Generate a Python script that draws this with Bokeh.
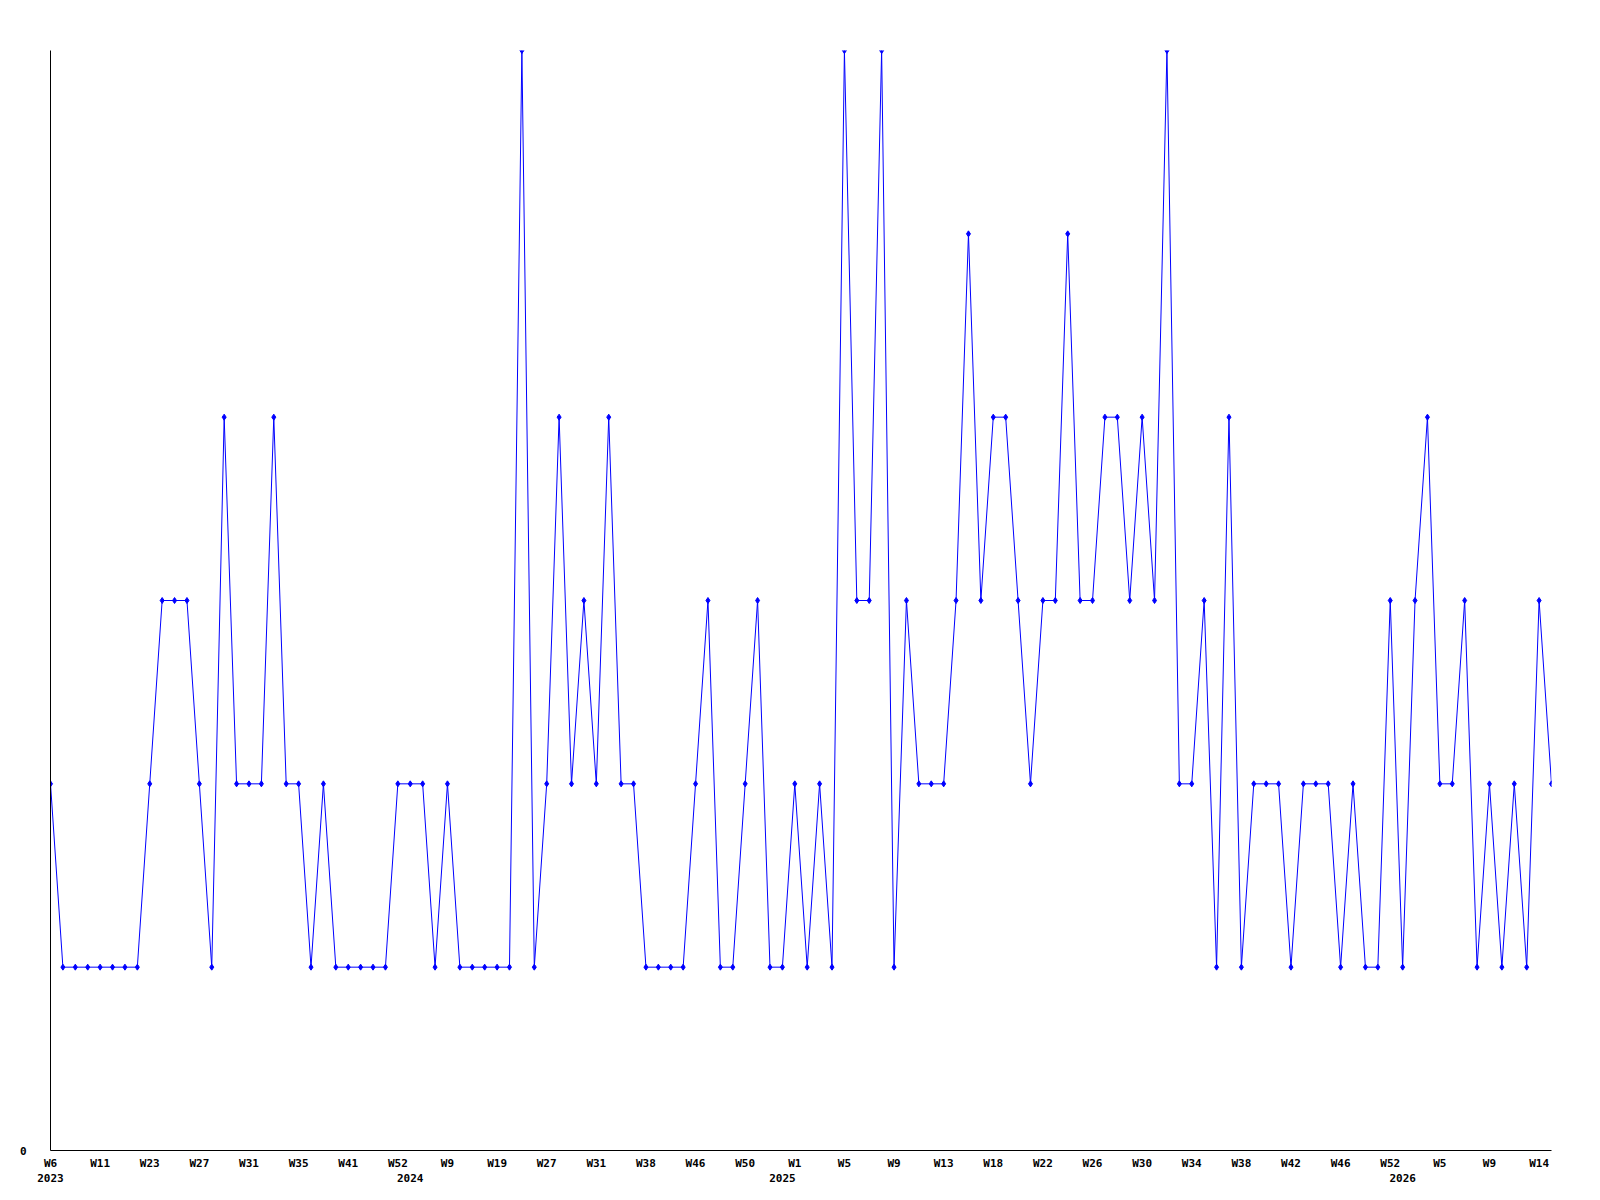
from bokeh.plotting import figure
from bokeh.models import Range1d, FixedTicker, LinearAxis, ColumnDataSource
from bokeh.embed import file_html
from bokeh.resources import INLINE

# ---- data ----
values = [2, 1, 1, 1, 1, 1, 1, 1, 2, 3, 3, 3, 2, 1, 4, 2, 2, 2, 4, 2, 2,
          1, 2, 1, 1, 1, 1, 1, 2, 2, 2, 1, 2, 1, 1, 1, 1, 1, 6, 1, 2,
          4, 2, 3, 2, 4, 2, 2, 1, 1, 1, 1, 2, 3, 1, 1, 2, 3, 1, 1, 2,
          1, 2, 1, 6, 3, 3, 6, 1, 3, 2, 2, 2, 3, 5, 3, 4, 4, 3, 2, 3,
          3, 5, 3, 3, 4, 4, 3, 4, 3, 6, 2, 2, 3, 1, 4, 1, 2, 2, 2, 1,
          2, 2, 2, 1, 2, 1, 1, 3, 1, 3, 4, 2, 2, 3, 1, 2, 1, 2, 1, 3, 2]
week_labels = ["W6", "W11", "W23", "W27", "W31", "W35", "W41", "W52", "W9", "W19",
               "W27", "W31", "W38", "W46", "W50", "W1", "W5", "W9", "W13", "W18",
               "W22", "W26", "W30", "W34", "W38", "W42", "W46", "W52", "W5", "W9", "W14"]
label_every = 4
year_labels = ["2023", "2024", "2025", "2026"]
year_points = [0, 29, 59, 109]
y_max = 6

x = list(range(len(values)))
src = ColumnDataSource(dict(x=x, y=values))

FONT = "DejaVu Sans Mono"

p = figure(width=1592, height=1192, output_backend="svg", toolbar_location=None,
           x_range=Range1d(0, len(values) - 1), y_range=Range1d(0, y_max),
           x_axis_type=None, y_axis_type=None,
           min_border_left=50, min_border_right=41, min_border_top=50, min_border_bottom=42)
p.outline_line_color = None
p.xgrid.visible = False
p.ygrid.visible = False
p.background_fill_color = "white"
p.border_fill_color = "white"

p.line("x", "y", source=src, line_color="#0000ff", line_width=1)
p.scatter("x", "y", source=src, marker="diamond", size=6, fill_color="#0000ff",
          line_color="#0000ff")

week_ticks = [i * label_every for i in range(len(week_labels))]
xa = LinearAxis(ticker=FixedTicker(ticks=week_ticks),
                major_label_overrides={t: l for t, l in zip(week_ticks, week_labels)})
xa.axis_line_color = "black"
xa.axis_line_width = 1
xa.major_tick_line_color = None
xa.minor_tick_line_color = None
xa.major_tick_out = 0
xa.major_tick_in = 0
xa.major_label_standoff = 6
xa.major_label_text_font = FONT
xa.major_label_text_font_style = "bold"
xa.major_label_text_font_size = "11px"
xa.major_label_text_color = "black"
p.add_layout(xa, "below")

ya2 = LinearAxis(ticker=FixedTicker(ticks=year_points),
                 major_label_overrides={t: l for t, l in zip(year_points, year_labels)})
ya2.axis_line_color = None
ya2.major_tick_line_color = None
ya2.minor_tick_line_color = None
ya2.major_tick_out = 0
ya2.major_tick_in = 0
ya2.major_label_standoff = 1
ya2.major_label_text_font = FONT
ya2.major_label_text_font_style = "bold"
ya2.major_label_text_font_size = "11px"
ya2.major_label_text_color = "black"
p.add_layout(ya2, "below")

ya = LinearAxis(ticker=FixedTicker(ticks=[0]))
ya.axis_line_color = "black"
ya.axis_line_width = 1
ya.major_tick_line_color = None
ya.minor_tick_line_color = None
ya.major_tick_out = 0
ya.major_tick_in = 0
ya.major_label_standoff = 24
ya.major_label_text_font = FONT
ya.major_label_text_font_style = "bold"
ya.major_label_text_font_size = "11px"
ya.major_label_text_color = "black"
p.add_layout(ya, "left")

open("out.html", "w").write(file_html(p, INLINE))
